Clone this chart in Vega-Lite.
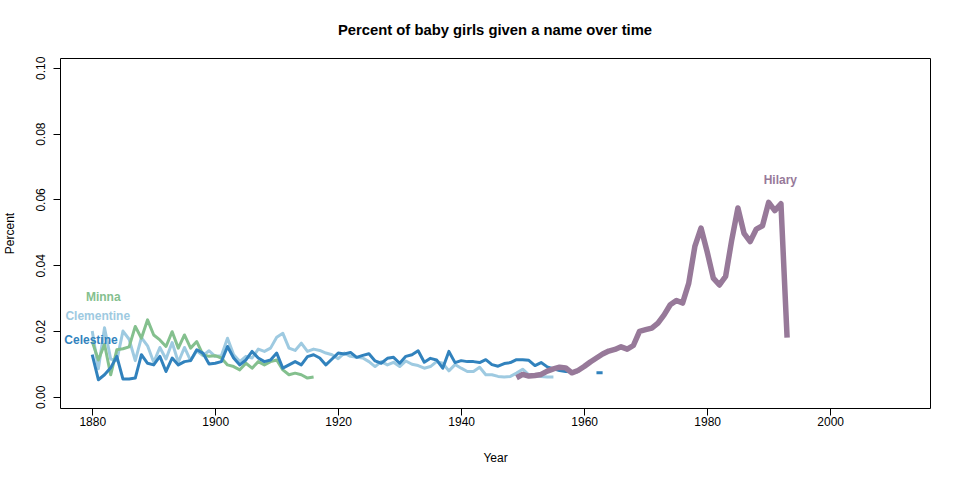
{
  "$schema": "https://vega.github.io/schema/vega-lite/v6.json",
  "width": 870,
  "height": 350,
  "autosize": {"type": "none"},
  "padding": {"left": 60, "top": 58, "right": 30, "bottom": 72},
  "background": "white",
  "config": {
    "font": "Liberation Sans",
    "view": {"stroke": "black", "strokeWidth": 1},
    "axis": {"grid": false, "domain": false, "tickColor": "black", "tickSize": 7, "labelColor": "black", "labelFontSize": 12, "titleFontSize": 12, "titleFontWeight": "normal", "titleColor": "black", "labelFont": "Liberation Sans", "titleFont": "Liberation Sans"}
  },
  "title": {"text": "Percent of baby girls given a name over time", "fontSize": 14.8, "fontWeight": "bold", "color": "black", "anchor": "middle", "baseline": "alphabetic", "offset": 6, "font": "Liberation Sans"},
  "datasets": {
    "series": [
      {"name":"Clementine","year":1880,"pct":0.0200},{"name":"Clementine","year":1881,"pct":0.0085},{"name":"Clementine","year":1882,"pct":0.0210},{"name":"Clementine","year":1883,"pct":0.0115},{"name":"Clementine","year":1884,"pct":0.0110},{"name":"Clementine","year":1885,"pct":0.0200},{"name":"Clementine","year":1886,"pct":0.0175},{"name":"Clementine","year":1887,"pct":0.0110},{"name":"Clementine","year":1888,"pct":0.0180},{"name":"Clementine","year":1889,"pct":0.0155},{"name":"Clementine","year":1890,"pct":0.0105},{"name":"Clementine","year":1891,"pct":0.0150},{"name":"Clementine","year":1892,"pct":0.0115},{"name":"Clementine","year":1893,"pct":0.0165},{"name":"Clementine","year":1894,"pct":0.0105},{"name":"Clementine","year":1895,"pct":0.0150},{"name":"Clementine","year":1896,"pct":0.0110},{"name":"Clementine","year":1897,"pct":0.0140},{"name":"Clementine","year":1898,"pct":0.0125},{"name":"Clementine","year":1899,"pct":0.0140},{"name":"Clementine","year":1900,"pct":0.0123},{"name":"Clementine","year":1901,"pct":0.0125},{"name":"Clementine","year":1902,"pct":0.0178},{"name":"Clementine","year":1903,"pct":0.0128},{"name":"Clementine","year":1904,"pct":0.0107},{"name":"Clementine","year":1905,"pct":0.0123},{"name":"Clementine","year":1906,"pct":0.0118},{"name":"Clementine","year":1907,"pct":0.0145},{"name":"Clementine","year":1908,"pct":0.0138},{"name":"Clementine","year":1909,"pct":0.0148},{"name":"Clementine","year":1910,"pct":0.0181},{"name":"Clementine","year":1911,"pct":0.0193},{"name":"Clementine","year":1912,"pct":0.0148},{"name":"Clementine","year":1913,"pct":0.0141},{"name":"Clementine","year":1914,"pct":0.0163},{"name":"Clementine","year":1915,"pct":0.0138},{"name":"Clementine","year":1916,"pct":0.0145},{"name":"Clementine","year":1917,"pct":0.0141},{"name":"Clementine","year":1918,"pct":0.0133},{"name":"Clementine","year":1919,"pct":0.0128},{"name":"Clementine","year":1920,"pct":0.0116},{"name":"Clementine","year":1921,"pct":0.0133},{"name":"Clementine","year":1922,"pct":0.0123},{"name":"Clementine","year":1923,"pct":0.0120},{"name":"Clementine","year":1924,"pct":0.0118},{"name":"Clementine","year":1925,"pct":0.0107},{"name":"Clementine","year":1926,"pct":0.0092},{"name":"Clementine","year":1927,"pct":0.0107},{"name":"Clementine","year":1928,"pct":0.0097},{"name":"Clementine","year":1929,"pct":0.0105},{"name":"Clementine","year":1930,"pct":0.0092},{"name":"Clementine","year":1931,"pct":0.0109},{"name":"Clementine","year":1932,"pct":0.0099},{"name":"Clementine","year":1933,"pct":0.0095},{"name":"Clementine","year":1934,"pct":0.0087},{"name":"Clementine","year":1935,"pct":0.0092},{"name":"Clementine","year":1936,"pct":0.0107},{"name":"Clementine","year":1937,"pct":0.0102},{"name":"Clementine","year":1938,"pct":0.0079},{"name":"Clementine","year":1939,"pct":0.0098},{"name":"Clementine","year":1940,"pct":0.0087},{"name":"Clementine","year":1941,"pct":0.0077},{"name":"Clementine","year":1942,"pct":0.0077},{"name":"Clementine","year":1943,"pct":0.0090},{"name":"Clementine","year":1944,"pct":0.0067},{"name":"Clementine","year":1945,"pct":0.0067},{"name":"Clementine","year":1946,"pct":0.0062},{"name":"Clementine","year":1947,"pct":0.0060},{"name":"Clementine","year":1948,"pct":0.0062},{"name":"Clementine","year":1949,"pct":0.0072},{"name":"Clementine","year":1950,"pct":0.0084},{"name":"Clementine","year":1951,"pct":0.0067},{"name":"Clementine","year":1952,"pct":0.0064},{"name":"Clementine","year":1953,"pct":0.0062},{"name":"Clementine","year":1954,"pct":0.0060},{"name":"Clementine","year":1955,"pct":0.0060},
      {"name":"Minna","year":1880,"pct":0.0168},{"name":"Minna","year":1881,"pct":0.0112},{"name":"Minna","year":1882,"pct":0.0160},{"name":"Minna","year":1883,"pct":0.0067},{"name":"Minna","year":1884,"pct":0.0143},{"name":"Minna","year":1885,"pct":0.0146},{"name":"Minna","year":1886,"pct":0.0152},{"name":"Minna","year":1887,"pct":0.0214},{"name":"Minna","year":1888,"pct":0.0178},{"name":"Minna","year":1889,"pct":0.0234},{"name":"Minna","year":1890,"pct":0.0188},{"name":"Minna","year":1891,"pct":0.0173},{"name":"Minna","year":1892,"pct":0.0153},{"name":"Minna","year":1893,"pct":0.0198},{"name":"Minna","year":1894,"pct":0.0148},{"name":"Minna","year":1895,"pct":0.0188},{"name":"Minna","year":1896,"pct":0.0148},{"name":"Minna","year":1897,"pct":0.0168},{"name":"Minna","year":1898,"pct":0.0128},{"name":"Minna","year":1899,"pct":0.0123},{"name":"Minna","year":1900,"pct":0.0125},{"name":"Minna","year":1901,"pct":0.0118},{"name":"Minna","year":1902,"pct":0.0097},{"name":"Minna","year":1903,"pct":0.0092},{"name":"Minna","year":1904,"pct":0.0082},{"name":"Minna","year":1905,"pct":0.0102},{"name":"Minna","year":1906,"pct":0.0087},{"name":"Minna","year":1907,"pct":0.0107},{"name":"Minna","year":1908,"pct":0.0097},{"name":"Minna","year":1909,"pct":0.0107},{"name":"Minna","year":1910,"pct":0.0112},{"name":"Minna","year":1911,"pct":0.0082},{"name":"Minna","year":1912,"pct":0.0067},{"name":"Minna","year":1913,"pct":0.0072},{"name":"Minna","year":1914,"pct":0.0067},{"name":"Minna","year":1915,"pct":0.0057},{"name":"Minna","year":1916,"pct":0.0060},
      {"name":"Celestine","year":1880,"pct":0.0128},{"name":"Celestine","year":1881,"pct":0.0052},{"name":"Celestine","year":1882,"pct":0.0067},{"name":"Celestine","year":1883,"pct":0.0088},{"name":"Celestine","year":1884,"pct":0.0123},{"name":"Celestine","year":1885,"pct":0.0054},{"name":"Celestine","year":1886,"pct":0.0054},{"name":"Celestine","year":1887,"pct":0.0057},{"name":"Celestine","year":1888,"pct":0.0128},{"name":"Celestine","year":1889,"pct":0.0102},{"name":"Celestine","year":1890,"pct":0.0097},{"name":"Celestine","year":1891,"pct":0.0123},{"name":"Celestine","year":1892,"pct":0.0077},{"name":"Celestine","year":1893,"pct":0.0118},{"name":"Celestine","year":1894,"pct":0.0097},{"name":"Celestine","year":1895,"pct":0.0107},{"name":"Celestine","year":1896,"pct":0.0110},{"name":"Celestine","year":1897,"pct":0.0143},{"name":"Celestine","year":1898,"pct":0.0133},{"name":"Celestine","year":1899,"pct":0.0100},{"name":"Celestine","year":1900,"pct":0.0102},{"name":"Celestine","year":1901,"pct":0.0107},{"name":"Celestine","year":1902,"pct":0.0153},{"name":"Celestine","year":1903,"pct":0.0118},{"name":"Celestine","year":1904,"pct":0.0097},{"name":"Celestine","year":1905,"pct":0.0112},{"name":"Celestine","year":1906,"pct":0.0138},{"name":"Celestine","year":1907,"pct":0.0118},{"name":"Celestine","year":1908,"pct":0.0107},{"name":"Celestine","year":1909,"pct":0.0112},{"name":"Celestine","year":1910,"pct":0.0133},{"name":"Celestine","year":1911,"pct":0.0087},{"name":"Celestine","year":1912,"pct":0.0097},{"name":"Celestine","year":1913,"pct":0.0107},{"name":"Celestine","year":1914,"pct":0.0097},{"name":"Celestine","year":1915,"pct":0.0122},{"name":"Celestine","year":1916,"pct":0.0128},{"name":"Celestine","year":1917,"pct":0.0118},{"name":"Celestine","year":1918,"pct":0.0097},{"name":"Celestine","year":1919,"pct":0.0115},{"name":"Celestine","year":1920,"pct":0.0133},{"name":"Celestine","year":1921,"pct":0.0130},{"name":"Celestine","year":1922,"pct":0.0135},{"name":"Celestine","year":1923,"pct":0.0120},{"name":"Celestine","year":1924,"pct":0.0126},{"name":"Celestine","year":1925,"pct":0.0131},{"name":"Celestine","year":1926,"pct":0.0109},{"name":"Celestine","year":1927,"pct":0.0102},{"name":"Celestine","year":1928,"pct":0.0117},{"name":"Celestine","year":1929,"pct":0.0120},{"name":"Celestine","year":1930,"pct":0.0102},{"name":"Celestine","year":1931,"pct":0.0123},{"name":"Celestine","year":1932,"pct":0.0128},{"name":"Celestine","year":1933,"pct":0.0140},{"name":"Celestine","year":1934,"pct":0.0105},{"name":"Celestine","year":1935,"pct":0.0117},{"name":"Celestine","year":1936,"pct":0.0112},{"name":"Celestine","year":1937,"pct":0.0087},{"name":"Celestine","year":1938,"pct":0.0138},{"name":"Celestine","year":1939,"pct":0.0104},{"name":"Celestine","year":1940,"pct":0.0110},{"name":"Celestine","year":1941,"pct":0.0107},{"name":"Celestine","year":1942,"pct":0.0107},{"name":"Celestine","year":1943,"pct":0.0104},{"name":"Celestine","year":1944,"pct":0.0113},{"name":"Celestine","year":1945,"pct":0.0098},{"name":"Celestine","year":1946,"pct":0.0093},{"name":"Celestine","year":1947,"pct":0.0101},{"name":"Celestine","year":1948,"pct":0.0104},{"name":"Celestine","year":1949,"pct":0.0113},{"name":"Celestine","year":1950,"pct":0.0113},{"name":"Celestine","year":1951,"pct":0.0111},{"name":"Celestine","year":1952,"pct":0.0095},{"name":"Celestine","year":1953,"pct":0.0104},{"name":"Celestine","year":1954,"pct":0.0091},{"name":"Celestine","year":1955,"pct":0.0085},{"name":"Celestine","year":1956,"pct":0.0080},{"name":"Celestine","year":1957,"pct":0.0077},{"name":"Celestine","year":1958,"pct":0.0076},{"name":"Celestine","year":1959,"pct":0.0076},{"name":"Celestine","year":1960,"pct":null},{"name":"Celestine","year":1961,"pct":null},{"name":"Celestine","year":1962,"pct":0.0073},{"name":"Celestine","year":1963,"pct":0.0073},
      {"name":"Hilary","year":1949,"pct":0.0058},{"name":"Hilary","year":1950,"pct":0.0068},{"name":"Hilary","year":1951,"pct":0.0063},{"name":"Hilary","year":1952,"pct":0.0065},{"name":"Hilary","year":1953,"pct":0.0068},{"name":"Hilary","year":1954,"pct":0.0078},{"name":"Hilary","year":1955,"pct":0.0085},{"name":"Hilary","year":1956,"pct":0.0090},{"name":"Hilary","year":1957,"pct":0.0088},{"name":"Hilary","year":1958,"pct":0.0073},{"name":"Hilary","year":1959,"pct":0.0080},{"name":"Hilary","year":1960,"pct":0.0092},{"name":"Hilary","year":1961,"pct":0.0106},{"name":"Hilary","year":1962,"pct":0.0118},{"name":"Hilary","year":1963,"pct":0.0130},{"name":"Hilary","year":1964,"pct":0.0139},{"name":"Hilary","year":1965,"pct":0.0144},{"name":"Hilary","year":1966,"pct":0.0152},{"name":"Hilary","year":1967,"pct":0.0145},{"name":"Hilary","year":1968,"pct":0.0156},{"name":"Hilary","year":1969,"pct":0.0199},{"name":"Hilary","year":1970,"pct":0.0204},{"name":"Hilary","year":1971,"pct":0.0209},{"name":"Hilary","year":1972,"pct":0.0224},{"name":"Hilary","year":1973,"pct":0.0249},{"name":"Hilary","year":1974,"pct":0.0280},{"name":"Hilary","year":1975,"pct":0.0293},{"name":"Hilary","year":1976,"pct":0.0285},{"name":"Hilary","year":1977,"pct":0.0345},{"name":"Hilary","year":1978,"pct":0.0457},{"name":"Hilary","year":1979,"pct":0.0513},{"name":"Hilary","year":1980,"pct":0.0441},{"name":"Hilary","year":1981,"pct":0.0361},{"name":"Hilary","year":1982,"pct":0.0340},{"name":"Hilary","year":1983,"pct":0.0366},{"name":"Hilary","year":1984,"pct":0.0477},{"name":"Hilary","year":1985,"pct":0.0574},{"name":"Hilary","year":1986,"pct":0.0497},{"name":"Hilary","year":1987,"pct":0.0472},{"name":"Hilary","year":1988,"pct":0.0510},{"name":"Hilary","year":1989,"pct":0.0520},{"name":"Hilary","year":1990,"pct":0.0591},{"name":"Hilary","year":1991,"pct":0.0566},{"name":"Hilary","year":1992,"pct":0.0587},{"name":"Hilary","year":1993,"pct":0.0180}
    ],
    "labels": [
      {"name":"Minna","year":1881.8,"pct":0.0302},
      {"name":"Clementine","year":1880.9,"pct":0.0246},
      {"name":"Celestine","year":1879.8,"pct":0.0173},
      {"name":"Hilary","year":1991.9,"pct":0.0658}
    ]
  },
  "encoding": {
    "x": {"field": "year", "type": "quantitative", "scale": {"domain": [1874.76, 2016.24], "nice": false, "zero": false}, "axis": {"values": [1880, 1900, 1920, 1940, 1960, 1980, 2000], "format": "d", "labelPadding": 1, "title": "Year", "titleX": 435, "titleY": 49, "titleBaseline": "middle", "titleAnchor": null}},
    "y": {"field": "pct", "type": "quantitative", "scale": {"domain": [-0.0034, 0.103], "nice": false, "zero": false}, "axis": {"values": [0, 0.02, 0.04, 0.06, 0.08, 0.1], "format": ".2f", "labelAngle": -90, "labelAlign": "center", "labelBaseline": "bottom", "labelPadding": 6, "title": "Percent", "titleX": -51, "titleY": 175, "titleAngle": -90, "titleAlign": "center", "titleBaseline": "middle"}},
    "color": {"field": "name", "type": "nominal", "scale": {"domain": ["Clementine", "Minna", "Celestine", "Hilary"], "range": ["#9ecae1", "#84c08e", "#3182bd", "#977999"]}, "legend": null}
  },
  "layer": [
    {
      "data": {"name": "series"},
      "transform": [{"filter": "datum.name !== 'Hilary'"}],
      "mark": {"type": "line", "invalid": "break-paths-filter-domains", "strokeJoin": "round", "strokeCap": "butt", "strokeWidth": 3}
    },
    {
      "data": {"name": "series"},
      "transform": [{"filter": "datum.name === 'Hilary'"}],
      "mark": {"type": "line", "strokeJoin": "round", "strokeCap": "butt", "strokeWidth": 5.5}
    },
    {
      "data": {"name": "labels"},
      "mark": {"type": "text", "fontWeight": "bold", "fontSize": 12, "align": "center", "baseline": "middle", "font": "Liberation Sans"},
      "encoding": {
        "text": {"field": "name", "type": "nominal"}
      }
    }
  ]
}
